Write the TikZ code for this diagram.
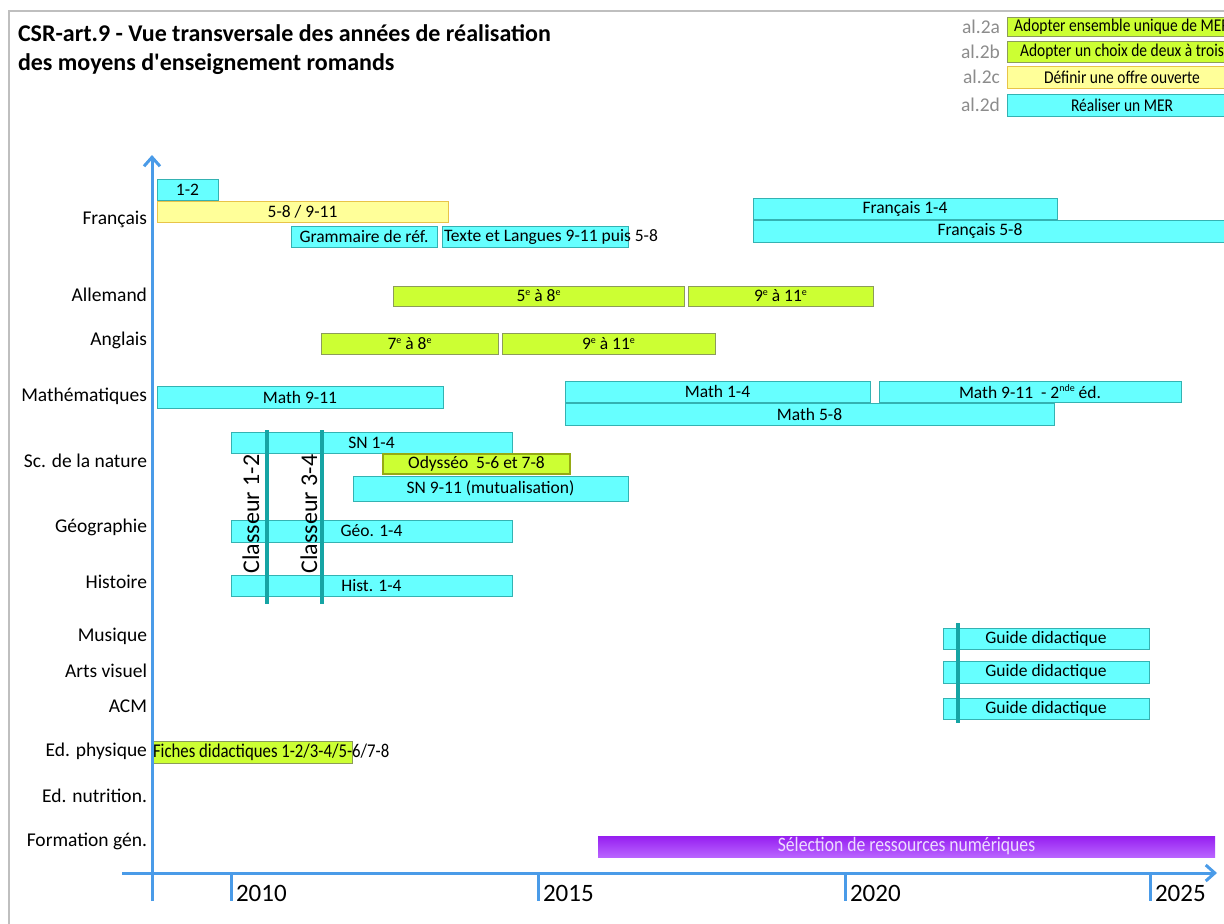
\documentclass[tikz,border=0pt]{standalone}
\usepackage{fontspec}
\setmainfont{Carlito}
\newfontfamily\condfont[FakeStretch=0.86]{Carlito}
\newfontfamily\titlefont[Ligatures=TeXOff]{Carlito}
\usetikzlibrary{arrows.meta}

\definecolor{barcyan}{RGB}{102,255,255}
\definecolor{barcyanline}{RGB}{52,178,178}
\definecolor{bargreen}{RGB}{204,255,51}
\definecolor{bargreenline}{RGB}{140,156,90}
\definecolor{baryellow}{RGB}{255,255,153}
\definecolor{baryellowline}{RGB}{232,196,72}
\definecolor{axisblue}{RGB}{74,155,232}
\definecolor{classeurteal}{RGB}{22,164,164}
\definecolor{frameg}{RGB}{191,191,191}
\definecolor{legendgrey}{RGB}{140,140,140}
\definecolor{odysline}{RGB}{150,170,20}
\definecolor{selpurpletop}{RGB}{150,30,240}
\definecolor{selpurplebot}{RGB}{185,100,255}
\definecolor{seltext}{RGB}{238,220,255}

% small raised ordinal marks
\newcommand\ordmark[1]{\raisebox{0.75ex}{\fontsize{10}{10}\selectfont #1}}

\begin{document}
\begin{tikzpicture}[x=1pt,y=1pt,yscale=-1,inner sep=0pt,outer sep=0pt,
  bar/.style={anchor=north west,draw,line width=1pt,font=\fontsize{17.5}{20}\selectfont},
  cyanbar/.style={bar,fill=barcyan,draw=barcyanline},
  greenbar/.style={bar,fill=bargreen,draw=bargreenline},
  yellowbar/.style={bar,fill=baryellow,draw=baryellowline},
  subject/.style={anchor=east,font=\fontsize{19.5}{22}\selectfont},
  legendlbl/.style={anchor=east,text=legendgrey,font=\fontsize{19.5}{22}\selectfont},
  legendbar/.style={anchor=north west,draw,line width=1pt,minimum width=230pt,
    font=\condfont\fontsize{18}{20}\selectfont},
  yearlbl/.style={anchor=west,font=\fontsize{25}{28}\selectfont},
  axisline/.style={draw=axisblue,line width=3pt},
  classeur/.style={draw=classeurteal,line width=4pt},
  classeurlbl/.style={rotate=90,font=\fontsize{24}{26}\selectfont}]
\useasboundingbox (0,0) rectangle (1224,924);

% frame and title
\draw[frameg,line width=1.5pt] (9,924) -- (9,11) -- (1224,11);
\node[anchor=base west,font=\titlefont\fontsize{24}{28}\bfseries] (title1) at (18,41)
  {CSR-art.9 - Vue transversale des années de réalisation};
\node[anchor=base west,font=\titlefont\fontsize{24}{28}\bfseries] (title2) at (18,70)
  {des moyens d'enseignement romands};

% legend
\node[legendlbl] (al2a) at (1000,27) {al.2a};
\node[legendlbl] (al2b) at (1000,52) {al.2b};
\node[legendlbl] (al2c) at (1000,77) {al.2c};
\node[legendlbl] (al2d) at (1000,105) {al.2d};
\node[legendbar,fill=bargreen,draw=bargreenline,minimum height=19pt] (lega) at (1007,17)
  {Adopter ensemble unique de MER};
\node[legendbar,fill=bargreen,draw=bargreenline,minimum height=21pt] (legb) at (1007,41)
  {Adopter un choix de deux à trois};
\node[legendbar,fill=baryellow,draw=baryellowline,minimum height=22pt] (legc) at (1007,66)
  {Définir une offre ouverte};
\node[legendbar,fill=barcyan,draw=barcyanline,minimum height=22pt] (legd) at (1007,94)
  {Réaliser un MER};

% subjects
\node[subject] (lfr) at (147,219) {Français};
\node[subject] (lal) at (147,295) {Allemand};
\node[subject] (lan) at (147,340) {Anglais};
\node[subject] (lma) at (147,396) {Mathématiques};
\node[subject] (lsn) at (147,461) {Sc. de la nature};
\node[subject] (lgeo) at (147,527) {Géographie};
\node[subject] (lhist) at (147,582) {Histoire};
\node[subject] (lmus) at (147,636) {Musique};
\node[subject] (larts) at (147,671) {Arts visuel};
\node[subject] (lacm) at (147,706) {ACM};
\node[subject] (ledph) at (147,751) {Ed. physique};
\node[subject] (lednu) at (147,796) {Ed. nutrition.};
\node[subject] (lform) at (147,841) {Formation gén.};

% Francais
\node[cyanbar,minimum width=61pt,minimum height=21pt] (fr12) at (157,179) {1-2};
\node[yellowbar,minimum width=291pt,minimum height=21pt] (fr58) at (157,201) {5-8 / 9-11};
\node[cyanbar,minimum width=146pt,minimum height=21pt] (frgram) at (291,226) {Grammaire de réf.};
\node[cyanbar,minimum width=186pt,minimum height=21pt] (frtexte) at (442,226) {};
\node[anchor=west,font=\fontsize{17.5}{20}\selectfont] (frtextelbl) at (444,237)
  {Texte et Langues 9-11 puis 5-8};
\node[cyanbar,minimum width=304pt,minimum height=21pt] (fr14b) at (753,198) {Français 1-4};
\node[cyanbar,minimum width=490pt,minimum height=22pt] (fr58b) at (753,220) {};
\node[font=\fontsize{17.5}{20}\selectfont] (fr58blbl) at (980,231) {Français 5-8};

% Allemand, Anglais
\node[greenbar,minimum width=291pt,minimum height=20pt] (al58) at (393,286)
  {5\ordmark{e} à 8\ordmark{e}};
\node[greenbar,minimum width=185pt,minimum height=20pt] (al911) at (688,286)
  {9\ordmark{e} à 11\ordmark{e}};
\node[greenbar,minimum width=177pt,minimum height=21pt] (an78) at (321,333)
  {7\ordmark{e} à 8\ordmark{e}};
\node[greenbar,minimum width=213pt,minimum height=21pt] (an911) at (502,333)
  {9\ordmark{e} à 11\ordmark{e}};

% Mathematiques
\node[cyanbar,minimum width=286pt,minimum height=22pt] (ma911) at (157,386) {Math 9-11};
\node[cyanbar,minimum width=305pt,minimum height=21pt] (ma14) at (565,381) {Math 1-4};
\node[cyanbar,minimum width=302pt,minimum height=21pt] (ma911b) at (879,381)
  {Math 9-11 \ - 2\ordmark{nde} éd.};
\node[cyanbar,minimum width=489pt,minimum height=22pt] (ma58) at (565,403) {Math 5-8};

% sciences, geo, histoire
\node[cyanbar,minimum width=281pt,minimum height=21pt] (sn14) at (231,432) {SN 1-4};
\node[bar,fill=bargreen,draw=odysline,line width=2.5pt,minimum width=187pt,minimum height=20pt]
  (odys) at (383,454) {Odysséo \ 5-6 et 7-8};
\node[cyanbar,minimum width=275pt,minimum height=25pt] (sn911) at (353,476)
  {SN 9-11 (mutualisation)};
\node[cyanbar,minimum width=281pt,minimum height=22pt] (geo) at (231,520) {Géo. 1-4};
\node[cyanbar,minimum width=281pt,minimum height=21pt] (hist) at (231,575) {Hist. 1-4};
\coordinate (cl12top) at (267,430);
\coordinate (cl12bot) at (267,604);
\coordinate (cl34top) at (322,430);
\coordinate (cl34bot) at (322,604);
\draw[classeur] (cl12top) -- (cl12bot);
\draw[classeur] (cl34top) -- (cl34bot);
\node[classeurlbl] (cl12) at (251,514) {Classeur 1-2};
\node[classeurlbl] (cl34) at (309,514) {Classeur 3-4};

% arts
\node[cyanbar,minimum width=206pt,minimum height=21pt] (gmus) at (943,628) {Guide didactique};
\node[cyanbar,minimum width=206pt,minimum height=22pt] (garts) at (943,661) {Guide didactique};
\node[cyanbar,minimum width=206pt,minimum height=21pt] (gacm) at (943,698) {Guide didactique};
\coordinate (guidetop) at (958,623);
\coordinate (guidebot) at (958,723);
\draw[classeur] (guidetop) -- (guidebot);

% ed. physique, formation generale
\node[greenbar,minimum width=200pt,minimum height=22pt] (edph) at (152,741) {};
\node[anchor=west,font=\condfont\fontsize{19.5}{22}\selectfont] (edphlbl) at (153,752)
  {Fiches didactiques 1-2/3-4/5-6/7-8};
\node[bar,draw=none,top color=selpurpletop,bottom color=selpurplebot,text=seltext,
  font=\condfont\fontsize{20.5}{22}\selectfont,minimum width=617pt,minimum height=21pt]
  (sel) at (598,836) {Sélection de ressources numériques};

% axes
\coordinate (origin) at (152,873);
\coordinate (ytop) at (152,155);
\coordinate (ybot) at (152,901);
\coordinate (xleft) at (122,873);
\coordinate (xright) at (1217,873);
\draw[axisline,-{Straight Barb[length=9pt,width=16pt,line width=3pt]}] (ybot) -- (ytop);
\draw[axisline,-{Straight Barb[length=9pt,width=16pt,line width=3pt]}] (xleft) -- (xright);
\foreach \yr/\xx in {2010/231,2015/538,2020/845,2025/1150}{
  \draw[axisline] (\xx,873) -- (\xx,901);
  \node[yearlbl] (yr\yr) at (\xx+5,893) {\yr};
}
\end{tikzpicture}
\end{document}
